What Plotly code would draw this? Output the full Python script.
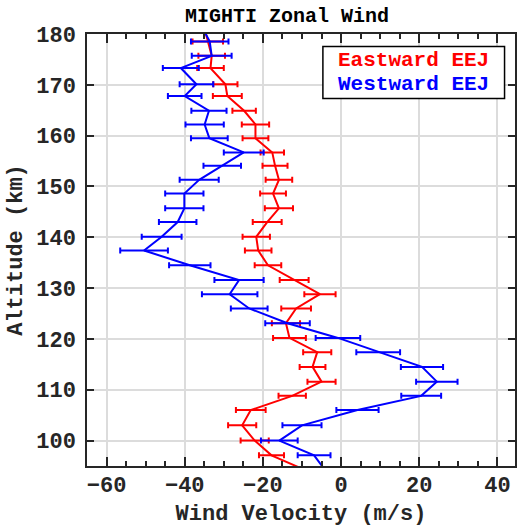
import plotly.graph_objects as go

# Altitude grid (km)
altitude = [181.3, 178.5, 175.7, 173.3, 170.1, 167.8, 164.9, 162.2, 159.5, 156.7,
            154.1, 151.3, 148.6, 145.7, 143.0, 140.1, 137.4, 134.5, 131.6, 128.8,
            126.0, 123.1, 120.2, 117.4, 114.5, 111.6, 108.8, 106.0, 103.0, 100.0,
            97.1, 94.3]

# Eastward EEJ zonal wind (m/s) and uncertainty
east_wind = [-35.0, -34.1, -33.1, -33.4, -29.6, -29.1, -24.8, -21.9, -21.9, -17.6,
             -16.9, -15.9, -17.4, -15.9, -18.9, -21.7, -21.2, -18.7, -12.0, -5.4,
             -11.5, -14.1, -13.2, -6.1, -7.3, -5.0, -12.5, -23.1, -25.3, -22.1,
             -17.8, -9.5]
east_err = [3.5, 3.9, 3.4, 3.4, 3.1, 3.7, 3.0, 3.5, 3.3, 3.0,
            3.2, 3.4, 3.3, 3.6, 3.7, 3.5, 3.4, 3.4, 3.7, 4.0,
            3.8, 3.6, 4.2, 3.6, 3.3, 3.6, 3.5, 3.8, 3.6, 3.6,
            3.2, 3.5]

# Westward EEJ zonal wind (m/s) and uncertainty
west_wind = [-35.5, -33.6, -33.1, -41.0, -37.0, -40.0, -33.8, -34.9, -33.7, -24.9,
             -30.4, -36.3, -40.1, -40.1, -41.8, -45.9, -50.4, -38.7, -26.1, -28.5,
             -23.5, -13.7, -0.8, 9.5, 20.7, 24.5, 20.5, 4.2, -10.0, -15.8,
             -6.9, -4.2]
west_err = [4.8, 4.8, 5.1, 4.6, 4.3, 4.3, 4.5, 4.9, 4.7, 5.1,
            4.8, 5.0, 4.9, 4.9, 4.8, 5.1, 6.1, 5.3, 6.3, 7.1,
            4.7, 5.7, 5.7, 5.6, 5.4, 5.3, 5.1, 5.4, 5.0, 4.7,
            4.2, 4.5]

series_names = ["Eastward EEJ", "Westward EEJ"]
series_colors = ["#ff0000", "#0000ff"]

x_ticks = [-60, -40, -20, 0, 20, 40]
y_ticks = [100, 110, 120, 130, 140, 150, 160, 170, 180]

FONT = "Liberation Mono"
AXC = "#262626"

W, H = 520, 527
ML, MR, MT, MB = 87, 3, 34, 61
PW, PH = W - ML - MR, H - MT - MB


def px_x(p):
    return (p - ML) / PW


def px_y(p):
    return 1 - (p - MT) / PH


fig = go.Figure()
for xs, errs, name, col in [(east_wind, east_err, series_names[0], series_colors[0]),
                            (west_wind, west_err, series_names[1], series_colors[1])]:
    fig.add_trace(go.Scatter(
        x=xs, y=altitude, mode="lines", name=name,
        line=dict(color=col, width=2),
        error_x=dict(type="data", array=errs, color=col, thickness=2, width=3),
    ))

legend_ann = []
for i, (name, col) in enumerate(zip(series_names, series_colors)):
    legend_ann.append(dict(
        xref="paper", yref="paper", x=px_x(415.5), y=px_y(60.5 + 24 * i),
        xanchor="center", yanchor="middle", showarrow=False, text=name,
        font=dict(family=FONT, size=21, color=col, weight="bold"),
    ))

fig.update_layout(
    width=W, height=H,
    margin=dict(l=ML, r=MR, t=MT, b=MB),
    paper_bgcolor="white", plot_bgcolor="white",
    showlegend=False,
    title=dict(text="MIGHTI Zonal Wind", x=px_x(288), xref="paper", xanchor="center",
               y=1 - 15 / H, yanchor="middle",
               font=dict(family=FONT, size=20, color="black", weight="bold")),
    shapes=[dict(type="rect", xref="paper", yref="paper",
                 x0=px_x(324), x1=px_x(506.5), y0=px_y(98.5), y1=px_y(46.5),
                 line=dict(color="black", width=1.5), fillcolor="white", layer="above")],
    annotations=legend_ann,
)

fig.update_xaxes(
    range=[-65, 44.5], tickvals=x_ticks, ticks="inside", ticklen=9, tickwidth=1.5,
    tickcolor=AXC, showline=True, linecolor=AXC, linewidth=1.5, mirror="ticks",
    showgrid=True, gridcolor="#dcdcdc", gridwidth=1.5, zeroline=False,
    minor=dict(dtick=5, tick0=0, ticks="inside", ticklen=5, tickcolor=AXC, showgrid=False),
    tickfont=dict(family=FONT, size=22, color=AXC, weight="bold"),
    ticklabelstandoff=-2,
    title=dict(text="Wind Velocity (m/s)", standoff=8,
               font=dict(family=FONT, size=22, color=AXC, weight="bold")),
)
fig.update_yaxes(
    range=[95, 180], tickvals=y_ticks, ticks="inside", ticklen=7, tickwidth=1.5,
    tickcolor=AXC, showline=True, linecolor=AXC, linewidth=1.5, mirror="ticks",
    showgrid=True, gridcolor="#dcdcdc", gridwidth=1.5, zeroline=False,
    tickfont=dict(family=FONT, size=22, color=AXC, weight="bold"),
    ticklabelstandoff=5,
    title=dict(text="Altitude (km)", standoff=8,
               font=dict(family=FONT, size=22, color=AXC, weight="bold")),
)

fig.write_html("out.html")
